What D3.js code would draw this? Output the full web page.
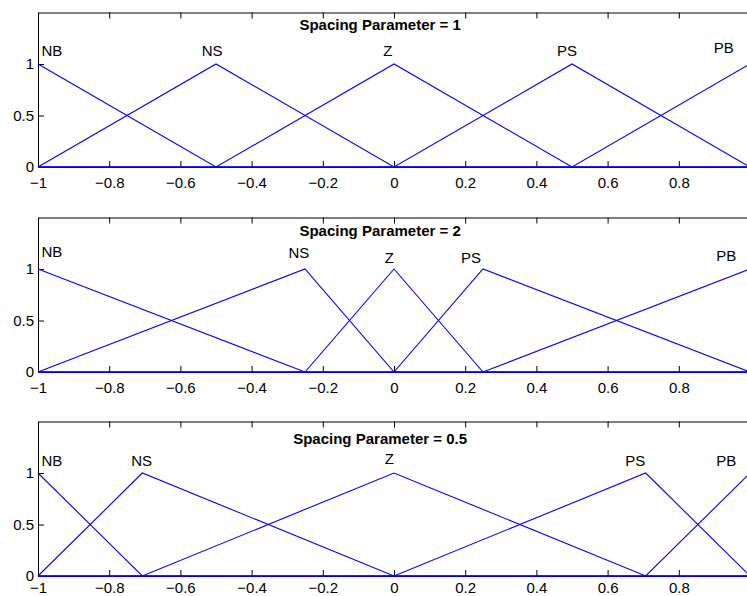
<!DOCTYPE html>
<html>
<head>
<meta charset="utf-8">
<script src="https://cdn.jsdelivr.net/npm/d3@7"></script>
<style>
  html, body { margin: 0; padding: 0; background: #fff; }
  svg { display: block; }
  text { font-family: "Liberation Sans", Arial, Helvetica, sans-serif; fill: #000; }
</style>
</head>
<body>
<svg id="chart" width="747" height="596"></svg>
<script>
// ---- data ----
const mfNames = ["NB", "NS", "Z", "PS", "PB"];
const spacingParams = ["1", "2", "0.5"];
// peak (centre) of each triangular membership function, per subplot
const peaks1 = [-1, -0.5, 0, 0.5, 1];
const peaks2 = [-1, -0.25, 0, 0.25, 1];
const peaks3 = [-1, -0.707, 0, 0.707, 1];
// label anchor positions (data units) per subplot
const labelX1 = [-0.961, -0.511, -0.017, 0.486, 0.926];
const labelY1 = [1.08, 1.08, 1.08, 1.08, 1.11];
const labelX2 = [-0.961, -0.267, -0.013, 0.216, 0.933];
const labelY2 = [1.12, 1.11, 1.06, 1.06, 1.08];
const labelX3 = [-0.961, -0.709, -0.013, 0.678, 0.933];
const labelY3 = [1.07, 1.07, 1.09, 1.07, 1.07];
const titleX = [-0.039, -0.039, -0.039];
const titleY = [1.33, 1.32, 1.28];
const xTicks = [-1, -0.8, -0.6, -0.4, -0.2, 0, 0.2, 0.4, 0.6, 0.8];
const yTicks = [0, 0.5, 1];
const xDomain = [-1, 1];
const yDomain = [0, 1.5];

const panels = [
  { peaks: peaks1, lx: labelX1, ly: labelY1, top: 12.5, pad: 10 },
  { peaks: peaks2, lx: labelX2, ly: labelY2, top: 217.5, pad: 10 },
  { peaks: peaks3, lx: labelX3, ly: labelY3, top: 421.5, pad: 6 }
];

const svg = d3.select("#chart");
const left = 38, right = 750, plotH = 154.5;
const x = d3.scaleLinear().domain(xDomain).range([left, right]);
const fmt = d3.format("");

panels.forEach((p, i) => {
  const y = d3.scaleLinear().domain(yDomain).range([p.top + plotH, p.top]);
  const g = svg.append("g");

  // triangular MFs: vertices built from neighbouring peaks
  const mfs = p.peaks.map((c, k) => {
    const a = k > 0 ? p.peaks[k - 1] : c;
    const b = k < p.peaks.length - 1 ? p.peaks[k + 1] : c;
    const pts = [];
    if (a > xDomain[0]) pts.push([xDomain[0], 0]);
    if (a < c) pts.push([a, 0]);
    pts.push([c, 1]);
    if (b > c) pts.push([b, 0]);
    if (b < xDomain[1]) pts.push([xDomain[1], 0]);
    return pts;
  });

  // axes box
  const bottomAxis = d3.axisBottom(x).tickValues(xTicks).tickSizeInner(-6).tickSizeOuter(0)
    .tickPadding(p.pad).tickFormat(d => fmt(d));
  const topAxis = d3.axisTop(x).tickValues(xTicks).tickSizeInner(-6).tickSizeOuter(0).tickFormat("");
  const leftAxis = d3.axisLeft(y).tickValues(yTicks).tickSizeInner(-6).tickSizeOuter(0)
    .tickPadding(4).tickFormat(d => fmt(d));

  const gb = g.append("g").attr("transform", `translate(0,${y(0)})`).call(bottomAxis);
  const gt = g.append("g").attr("transform", `translate(0,${y(1.5)})`).call(topAxis);
  const gl = g.append("g").attr("transform", `translate(${left},0)`).call(leftAxis);
  [gb, gt, gl].forEach(a => {
    a.selectAll("path.domain").attr("stroke", "#000").attr("stroke-width", 1);
    a.selectAll(".tick line").attr("stroke", "#000");
    a.selectAll("text").attr("font-family", "Liberation Sans, Arial, sans-serif").attr("font-size", 15).attr("fill", "#000");
  });
  gl.selectAll("text").attr("dy", "0.3em");

  // MF lines
  const line = d3.line().x(d => x(d[0])).y(d => y(d[1]));
  g.append("g").selectAll("path").data(mfs).join("path")
    .attr("d", line).attr("fill", "none").attr("stroke", "#0000ff").attr("stroke-width", 1.1);

  // labels
  g.append("g").selectAll("text").data(mfNames).join("text")
    .attr("x", (d, k) => x(p.lx[k])).attr("y", (d, k) => y(p.ly[k]))
    .attr("text-anchor", "middle").attr("font-size", 15).text(d => d);

  // title
  g.append("text").attr("x", x(titleX[i])).attr("y", y(titleY[i]))
    .attr("text-anchor", "middle").attr("font-size", 15).attr("font-weight", "bold")
    .text("Spacing Parameter = " + spacingParams[i]);
});
</script>
</body>
</html>
